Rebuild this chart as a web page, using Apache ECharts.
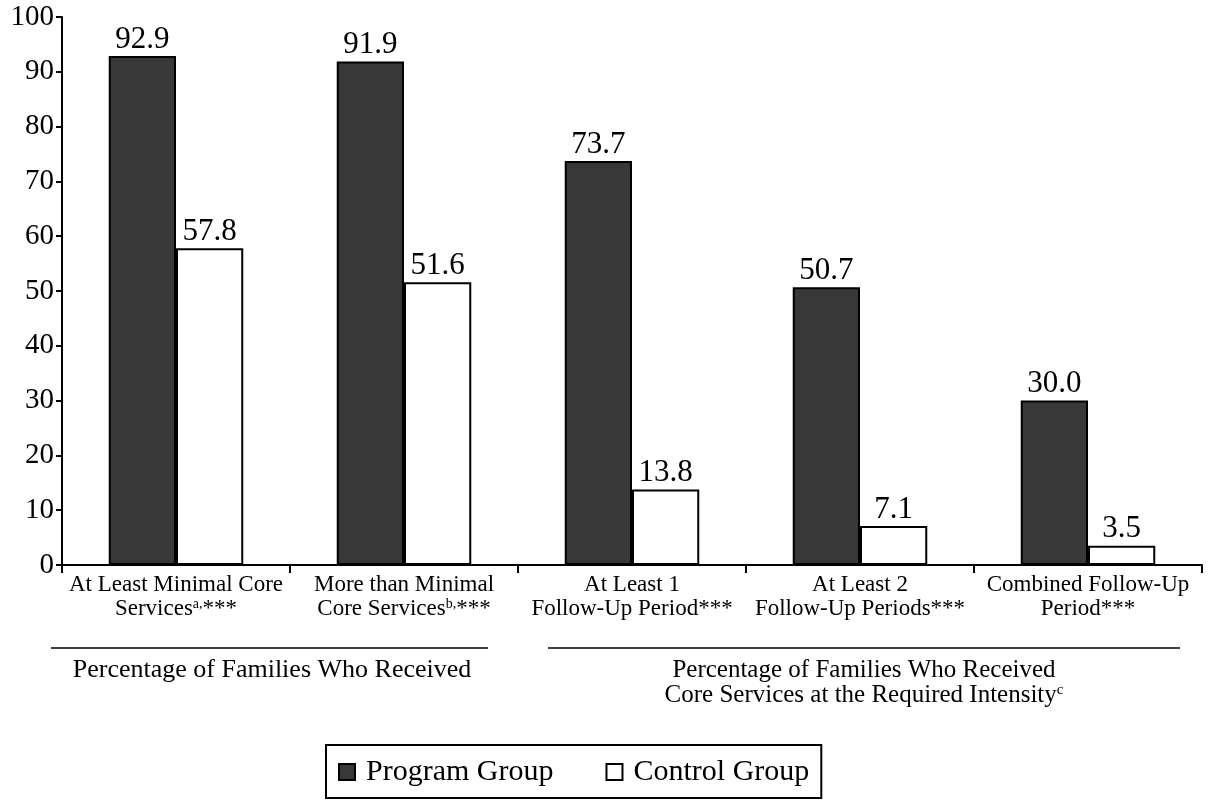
<!DOCTYPE html>
<html>
<head>
<meta charset="utf-8">
<script src="https://cdn.jsdelivr.net/npm/echarts@6/dist/echarts.min.js"></script>
<style>
html,body{margin:0;padding:0;background:#fff;}
#chart{width:1215px;height:802px;}
</style>
</head>
<body>
<div id="chart"></div>
<script>
const categories = [
  'At Least Minimal Core\nServices{sup|a,}***',
  'More than Minimal\nCore Services{sup|b,}***',
  'At Least 1\nFollow-Up Period***',
  'At Least 2\nFollow-Up Periods***',
  'Combined Follow-Up\nPeriod***'
];
const programGroup = [92.9, 91.9, 73.7, 50.7, 30.0];
const controlGroup = [57.8, 51.6, 13.8, 7.1, 3.5];
const yTicks = { min: 0, max: 100, interval: 10 };
const groupLabel1 = 'Percentage of Families Who Received';
const groupLabel2 = 'Percentage of Families Who Received\nCore Services at the Required Intensity{sup|c}';

const FONT = '"Liberation Serif", "Times New Roman", serif';
const chart = echarts.init(document.getElementById('chart'), null, {renderer: 'canvas'});

const labelCommon = {
  show: true, position: 'top', distance: 1,
  color: '#000', fontFamily: FONT, fontSize: 31,
  formatter: p => p.value.toFixed(1)
};

chart.setOption({
  animation: false,
  backgroundColor: '#fff',
  grid: { left: 62, right: 13, top: 17, bottom: 237, containLabel: false },
  xAxis: {
    type: 'category',
    data: categories,
    axisLine: { lineStyle: { color: '#000', width: 2 } },
    axisTick: { show: true, length: 8, lineStyle: { color: '#000', width: 2 } },
    axisLabel: {
      color: '#000', fontFamily: FONT, fontSize: 23, lineHeight: 24, margin: 8,
      interval: 0,
      rich: { sup: { fontSize: 14, fontFamily: FONT, color: '#000', verticalAlign: 'top', lineHeight: 24, padding: [0,0,6,0] } }
    }
  },
  yAxis: {
    type: 'value',
    min: yTicks.min, max: yTicks.max, interval: yTicks.interval,
    axisLine: { show: true, lineStyle: { color: '#000', width: 2 } },
    axisTick: { show: true, length: 6, lineStyle: { color: '#000', width: 2 } },
    splitLine: { show: false },
    axisLabel: { color: '#000', fontFamily: FONT, fontSize: 29, margin: 8 }
  },
  legend: {
    bottom: 4,
    left: 326,
    data: ['Program Group', 'Control Group'],
    icon: 'rect',
    itemWidth: 16, itemHeight: 16, itemGap: 52,
    borderColor: '#000', borderWidth: 2, borderRadius: 0,
    padding: [12, 12, 11, 12],
    textStyle: { color: '#000', fontFamily: FONT, fontSize: 30, padding: [0, 0, 0, 6] }
  },
  series: [
    {
      name: 'Program Group', type: 'bar', data: programGroup,
      barGap: '0%', barCategoryGap: '41%',
      itemStyle: { color: '#383838', borderColor: '#000', borderWidth: 2 },
      label: labelCommon
    },
    {
      name: 'Control Group', type: 'bar', data: controlGroup,
      itemStyle: { color: '#fff', borderColor: '#000', borderWidth: 2 },
      label: labelCommon
    }
  ],
  graphic: [
    { type: 'line', shape: { x1: 51, y1: 648, x2: 488, y2: 648 }, style: { stroke: '#000', lineWidth: 1.5 } },
    { type: 'line', shape: { x1: 548, y1: 648, x2: 1180, y2: 648 }, style: { stroke: '#000', lineWidth: 1.5 } },
    { type: 'text', x: 272, y: 670, style: { text: groupLabel1, fill: '#000', font: '26px ' + FONT, align: 'center', verticalAlign: 'middle' } },
    { type: 'text', x: 864, y: 683, style: {
        text: groupLabel2, fill: '#000', fontFamily: FONT, fontSize: 25, lineHeight: 25,
        align: 'center', verticalAlign: 'middle',
        rich: { sup: { fontSize: 15, fontFamily: FONT, fill: '#000', verticalAlign: 'top', lineHeight: 25, padding: [0,0,7,0] } }
      } }
  ]
});
</script>
</body>
</html>
